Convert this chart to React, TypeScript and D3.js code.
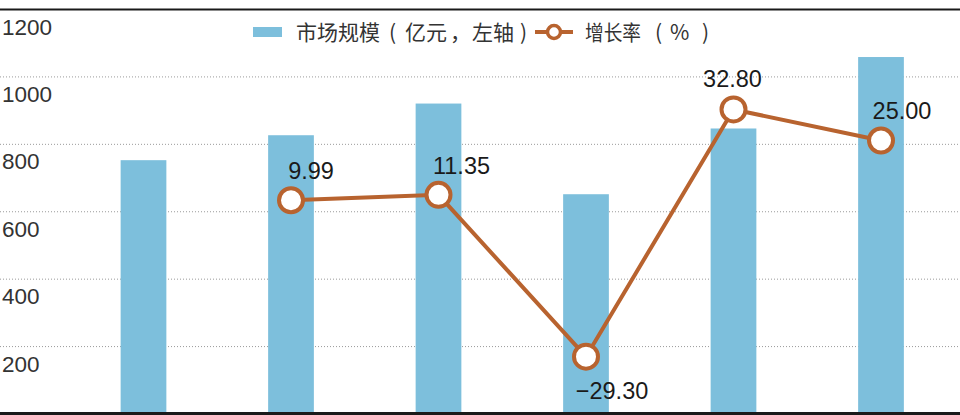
import * as d3 from 'd3';

const YEARS = ['2016', '2017', '2018', '2019', '2020', '2021'];
const MARKET_SIZE = [753, 827, 921, 652, 847, 1059];
const GROWTH_RATE: (number | null)[] = [null, 9.99, 11.35, -29.3, 32.8, 25.0];
const LEFT_TICKS = [200, 400, 600, 800, 1000, 1200];

// legend texts, split so the brackets can sit centred like the original
const BAR_LABEL_PARTS = ['市场规模', '(', '亿元', '，', '左轴', ')'];
const LINE_LABEL_PARTS = ['增长率', '(', '%', ')'];

const WIDTH = 960;
const HEIGHT = 415;
const PLOT = { top: 9.5, bottom: 414, left: 69.75, right: 954.75 };
const BAR_COLOR = '#7dbfdc';
const LINE_COLOR = '#b8632f';
const NUM_FONT = 'Liberation Sans, Arial, Helvetica, sans-serif';
const CJK_FONT = '"Noto Sans CJK SC", "Noto Sans", sans-serif';

// hand-placed value labels: [dx, dy] relative to the point
const LABEL_OFFSETS: [number, number][] = [
  [0, 0],
  [20, -21],
  [23, -21],
  [26, 42],
  [-1, -22],
  [21, -21],
];
const BAR_LEGEND_X = [296, 389, 405, 450, 472, 520];
const LINE_LEGEND_X = [585, 655, 670, 702];

export default function App() {
  const x = d3.scalePoint<string>().domain(YEARS).range([PLOT.left, PLOT.right]).padding(0.5);
  const barWidth = x.step() * 0.31;
  const yLeft = d3.scaleLinear().domain([0, 1200]).range([PLOT.bottom, PLOT.top]);
  const yRight = d3.scaleLinear().domain([-43.7, 57.9]).range([PLOT.bottom, PLOT.top]);

  const points = YEARS.map((yr, i) => ({ yr, v: GROWTH_RATE[i], i })).filter(
    (d) => d.v !== null,
  ) as { yr: string; v: number; i: number }[];

  const line = d3
    .line<{ yr: string; v: number }>()
    .x((d) => x(d.yr) as number)
    .y((d) => yRight(d.v));

  const fmt = (v: number) => (v < 0 ? '−' : '') + Math.abs(v).toFixed(2);

  return (
    <div style={{ position: 'fixed', left: 0, top: 0 }}>
      <svg width={WIDTH} height={HEIGHT} viewBox={`0 0 ${WIDTH} ${HEIGHT}`} style={{ display: 'block' }}>
        <rect width={WIDTH} height={HEIGHT} fill="#ffffff" />

        {/* dotted grid */}
        {LEFT_TICKS.filter((t) => t < 1200).map((t) => (
          <line
            key={`g${t}`}
            x1={0}
            x2={WIDTH}
            y1={yLeft(t)}
            y2={yLeft(t)}
            stroke="#9a9a9a"
            strokeWidth={1}
            strokeDasharray="1 2"
          />
        ))}
        {/* top rule */}
        <line x1={0} x2={WIDTH} y1={yLeft(1200)} y2={yLeft(1200)} stroke="#1a1a1a" strokeWidth={2.2} />

        {/* left axis labels */}
        {LEFT_TICKS.map((t) => (
          <text
            key={`t${t}`}
            x={2}
            y={yLeft(t) + 25}
            fontFamily={NUM_FONT}
            fontSize={22.5}
            fill="#333333"
          >
            {t}
          </text>
        ))}

        {/* bars */}
        {YEARS.map((yr, i) => (
          <rect
            key={`b${yr}`}
            x={(x(yr) as number) - barWidth / 2}
            y={yLeft(MARKET_SIZE[i])}
            width={barWidth}
            height={yLeft(0) - yLeft(MARKET_SIZE[i])}
            fill={BAR_COLOR}
          />
        ))}

        {/* bottom axis */}
        <line x1={0} x2={WIDTH} y1={yLeft(0) - 0.5} y2={yLeft(0) - 0.5} stroke="#1a1a1a" strokeWidth={3} />

        {/* growth line */}
        <path d={line(points) ?? ''} fill="none" stroke={LINE_COLOR} strokeWidth={4} />
        {points.map((d) => (
          <circle
            key={`c${d.yr}`}
            cx={x(d.yr) as number}
            cy={yRight(d.v)}
            r={12}
            fill="#ffffff"
            stroke={LINE_COLOR}
            strokeWidth={4}
          />
        ))}
        {points.map((d) => (
          <text
            key={`l${d.yr}`}
            x={(x(d.yr) as number) + LABEL_OFFSETS[d.i][0]}
            y={yRight(d.v) + LABEL_OFFSETS[d.i][1]}
            textAnchor="middle"
            fontFamily={NUM_FONT}
            fontSize={23.5}
            fill="#1a1a1a"
          >
            {fmt(d.v)}
          </text>
        ))}

        {/* legend */}
        <rect x={253} y={27} width={29} height={10} fill={BAR_COLOR} />
        <text y={39.5} fontFamily={CJK_FONT} fontSize={21} fill="#333333">
          {BAR_LABEL_PARTS.map((p, i) => (
            <tspan key={`bl${i}`} x={BAR_LEGEND_X[i]}>
              {p}
            </tspan>
          ))}
        </text>
        <line x1={535} x2={573} y1={32} y2={32} stroke={LINE_COLOR} strokeWidth={4} />
        <circle cx={554} cy={32} r={6.5} fill="#ffffff" stroke={LINE_COLOR} strokeWidth={3.5} />
        <text y={39.5} fontFamily={CJK_FONT} fontSize={21} fill="#333333">
          {LINE_LABEL_PARTS.map((p, i) => (
            <tspan
              key={`ll${i}`}
              x={LINE_LEGEND_X[i]}
              textLength={i === 0 ? 56 : undefined}
              lengthAdjust="spacingAndGlyphs"
            >
              {p}
            </tspan>
          ))}
        </text>
      </svg>
    </div>
  );
}
